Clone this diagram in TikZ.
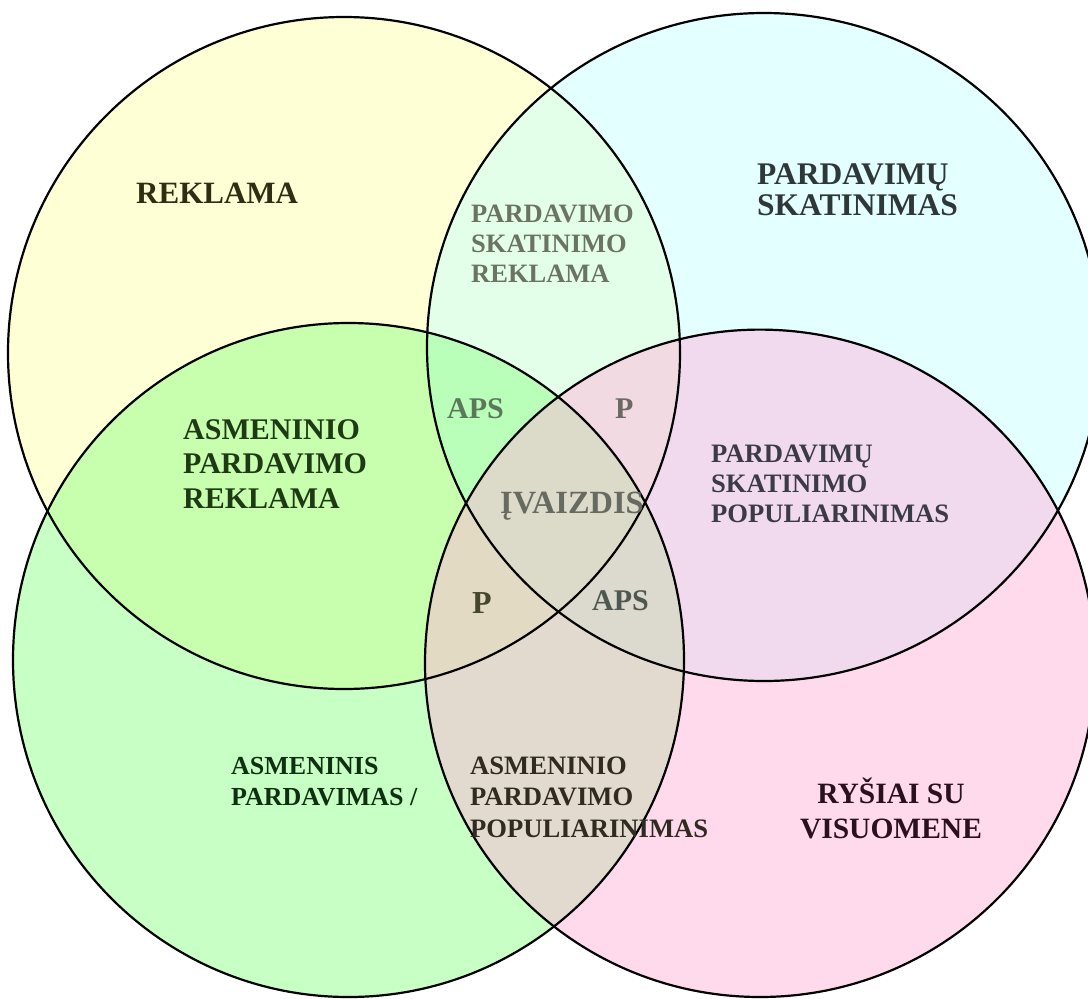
\documentclass[tikz,border=0pt]{standalone}
\usepackage{fontspec}
\setmainfont{Liberation Serif}
% area tints, laid down at half opacity
\definecolor{tintY}{HTML}{FFFFAB}
\definecolor{tintC}{HTML}{C8FFFF}
\definecolor{tintG}{HTML}{91FF89}
\definecolor{tintP}{HTML}{FFB6DB}
% label inks
\definecolor{inkOlive}{HTML}{2E2E12}
\definecolor{inkSage}{HTML}{6A7460}
\definecolor{inkSlate}{HTML}{2F3838}
\definecolor{inkMoss}{HTML}{5C785C}
\definecolor{inkAsh}{HTML}{6C6862}
\definecolor{inkGrey}{HTML}{666A60}
\definecolor{inkUmber}{HTML}{46462A}
\definecolor{inkStone}{HTML}{4E5850}
\definecolor{inkForest}{HTML}{1E3A14}
\definecolor{inkDusk}{HTML}{3A3A48}
\definecolor{inkPine}{HTML}{0E3010}
\definecolor{inkBark}{HTML}{302A20}
\definecolor{inkPlum}{HTML}{2A1020}
% bold label font with fixed baseline distance
\newcommand\lblfont[2]{\fontsize{#1}{#2}\selectfont\lineskiplimit-50pt\relax\bfseries}
\begin{document}
\begin{tikzpicture}[x=1pt,y=-1pt,
  area/.style={fill opacity=0.5},
  rim/.style={draw=black,line width=2.2pt},
  lbl/.style={inner sep=0pt,anchor=base west,align=left},
]
\useasboundingbox (0,0) rectangle (1088,999);

% four overlapping areas
\fill[tintY,area] (344,353) ellipse [x radius=336, y radius=336];
\fill[tintC,area] (764,347) ellipse [x radius=337, y radius=334];
\fill[tintG,area] (348.5,660) ellipse [x radius=335.5, y radius=337];
\fill[tintP,area] (760,663.3) ellipse [x radius=335, y radius=333.7];

% outlines
\draw[rim] (344,353) ellipse [x radius=336, y radius=336];
\draw[rim] (764,347) ellipse [x radius=337, y radius=334];
\draw[rim] (348.5,660) ellipse [x radius=335.5, y radius=337];
\draw[rim] (760,663.3) ellipse [x radius=335, y radius=333.7];

% labels (multi-line labels are placed by their last baseline)
\node[lbl,font=\lblfont{31}{36},text=inkOlive] (rek) at (136,203) {REKLAMA};
\node[lbl,font=\lblfont{26.5}{30},text=inkSage] (psr) at (471,282) {PARDAVIMO\\SKATINIMO\\REKLAMA};
\node[lbl,font=\lblfont{31.5}{30.5},text=inkSlate] (ps) at (757,215) {PARDAVIMŲ\\SKATINIMAS};
\node[lbl,font=\lblfont{30}{34},text=inkMoss] (aps1) at (447,418) {APS};
\node[lbl,font=\lblfont{30}{34},text=inkAsh] (p1) at (615,418) {P};
\node[lbl,font=\lblfont{32.4}{35},text=inkGrey] (img) at (500,513) {ĮVAIZDIS};
\node[lbl,font=\lblfont{32}{36},text=inkUmber] (p2) at (472,613) {P};
\node[lbl,font=\lblfont{30}{34},text=inkStone] (aps2) at (592,610) {APS};
\node[lbl,font=\lblfont{30}{34.5},text=inkForest] (apr) at (183,508) {ASMENINIO\\PARDAVIMO\\REKLAMA};
\node[lbl,font=\lblfont{26.6}{30},text=inkDusk] (psp) at (711,522) {PARDAVIMŲ\\SKATINIMO\\POPULIARINIMAS};
\node[lbl,font=\lblfont{26}{31},text=inkPine] (ap) at (231,805) {ASMENINIS\\PARDAVIMAS /};
\node[lbl,font=\lblfont{26.6}{31.5},text=inkBark] (app) at (470,837) {ASMENINIO\\PARDAVIMO\\POPULIARINIMAS};
\node[inner sep=0pt,anchor=base,align=center,font=\lblfont{29.5}{35},text=inkPlum] (rsv) at (891,838) {RYŠIAI SU\\VISUOMENE};
\end{tikzpicture}
\end{document}
